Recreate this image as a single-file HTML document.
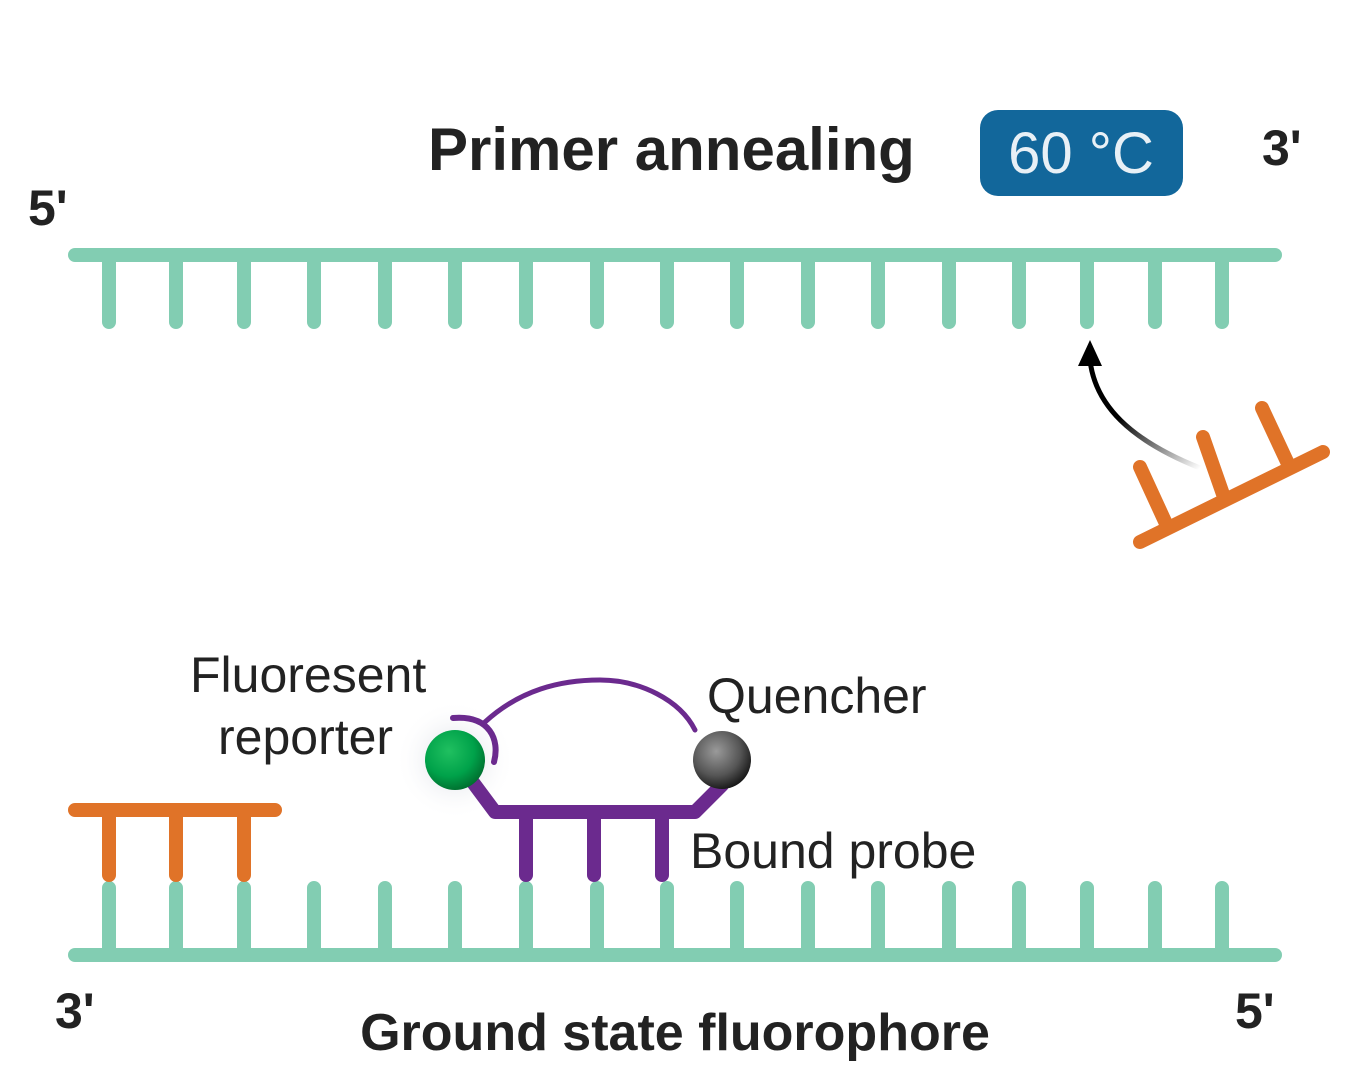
<!DOCTYPE html>
<html><head><meta charset="utf-8"><style>
html,body{margin:0;padding:0;background:#fff;}
svg{display:block;font-family:"Liberation Sans",sans-serif;}
</style></head><body>
<svg width="1350" height="1080" viewBox="0 0 1350 1080">
<defs>
<radialGradient id="gg" cx="0.4" cy="0.35" r="0.7"><stop offset="0" stop-color="#20c060"/><stop offset="0.6" stop-color="#00a24a"/><stop offset="1" stop-color="#006a2c"/></radialGradient>
<radialGradient id="gq" cx="0.4" cy="0.35" r="0.7"><stop offset="0" stop-color="#9a9a9a"/><stop offset="0.6" stop-color="#555"/><stop offset="1" stop-color="#111"/></radialGradient>
<radialGradient id="glow" cx="0.5" cy="0.5" r="0.5"><stop offset="0" stop-color="#c8ccd8" stop-opacity="0.8"/><stop offset="1" stop-color="#fff" stop-opacity="0"/></radialGradient>
<linearGradient id="ag" x1="1" y1="1" x2="0" y2="0"><stop offset="0" stop-color="#fff"/><stop offset="0.6" stop-color="#000"/><stop offset="1" stop-color="#000"/></linearGradient>
</defs>
<g stroke="#82cdb2" stroke-width="14" stroke-linecap="round" fill="none">
<line x1="75" y1="255" x2="1275" y2="255"/>
<path d="M109 255V322M176 255V322M244 255V322M314 255V322M385 255V322M455 255V322M526 255V322M597 255V322M667 255V322M737 255V322M808 255V322M878 255V322M949 255V322M1019 255V322M1087 255V322M1155 255V322M1222 255V322"/>
<line x1="75" y1="955" x2="1275" y2="955"/>
<path d="M109 955V888M176 955V888M244 955V888M314 955V888M385 955V888M455 955V888M526 955V888M597 955V888M667 955V888M737 955V888M808 955V888M878 955V888M949 955V888M1019 955V888M1087 955V888M1155 955V888M1222 955V888"/>
</g>
<g stroke="#e07328" stroke-width="14" stroke-linecap="round" fill="none">
<path d="M75 810H275M109 810V875M176 810V875M244 810V875"/>
<path d="M1140 542L1323 452M1168 528L1140 467M1225 500L1203 437M1290 468L1262 408"/>
</g>
<path d="M1200 468C1130 440 1095 405 1090 360" stroke="url(#ag)" stroke-width="5" fill="none"/>
<polygon points="1090,340 1078,366 1102,366" fill="#000"/>
<circle cx="455" cy="760" r="60" fill="url(#glow)"/>
<g stroke="#6b2a8e" stroke-width="14" stroke-linecap="round" stroke-linejoin="round" fill="none">
<path d="M460 765L495 812H695L722 785"/>
<path d="M526 812V875M594 812V875M662 812V875"/>
</g>
<path d="M453 718C490 715 500 740 494 762" stroke="#6b2a8e" stroke-width="6" fill="none" stroke-linecap="round"/>
<path d="M485 722C520 690 560 680 600 680C640 680 680 700 695 730" stroke="#6b2a8e" stroke-width="5" fill="none" stroke-linecap="round"/>
<circle cx="455" cy="760" r="30" fill="url(#gg)"/>
<circle cx="722" cy="760" r="29" fill="url(#gq)"/>
<text x="428" y="170" font-size="60" font-weight="bold" fill="#222">Primer annealing</text>
<rect x="980" y="110" width="203" height="86" rx="18" fill="#12679b"/>
<text x="1081" y="173" font-size="58" fill="#e8f0f6" text-anchor="middle">60 °C</text>
<text x="1262" y="165" font-size="50" font-weight="bold" fill="#222">3'</text>
<text x="28" y="225" font-size="50" font-weight="bold" fill="#222">5'</text>
<text x="55" y="1028" font-size="50" font-weight="bold" fill="#222">3'</text>
<text x="1235" y="1028" font-size="50" font-weight="bold" fill="#222">5'</text>
<text x="675" y="1050" font-size="52" font-weight="bold" fill="#222" text-anchor="middle">Ground state fluorophore</text>
<text font-size="50" fill="#222"><tspan x="190" y="692">Fluoresent</tspan><tspan x="218" y="754">reporter</tspan></text>
<text x="707" y="713" font-size="50" fill="#222">Quencher</text>
<text x="690" y="868" font-size="50" fill="#222">Bound probe</text>
</svg>
</body></html>
